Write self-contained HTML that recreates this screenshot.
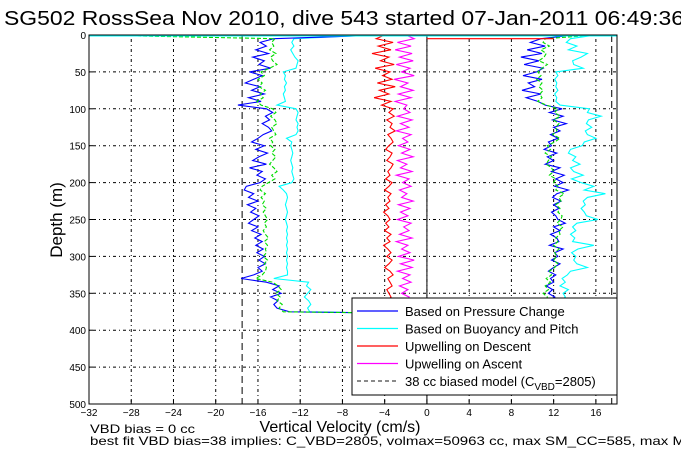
<!DOCTYPE html>
<html><head><meta charset="utf-8"><style>
body{margin:0;background:#fff;width:681px;height:454px;overflow:hidden}
svg{display:block;font-family:"Liberation Sans",sans-serif}
</style></head><body>
<svg id="c" width="681" height="454"></svg>
<script>
const xTicks=[-32,-28,-24,-20,-16,-12,-8,-4,0,4,8,12,16];
const yTicks=[0,50,100,150,200,250,300,350,400,450,500];
const dDepth=[0,5,10,15,20,25,30,35,40,45,50,55,60,65,70,75,80,85,90,95,100,105,110,115,120,125,130,135,140,145,150,155,160,165,170,175,180,185,190,195,200,205,210,215,220,225,230,235,240,245,250,255,260,265,270,275,280,285,290,295,300,305,310,315,320,325,330,335,340,345,350,355,360,365,370,375,377];
const descPressure=[-4,-14.5,-15.8,-15.2,-16.2,-15.0,-16.5,-15.4,-15.9,-14.8,-16.8,-15.6,-16.4,-17.2,-15.8,-16.6,-15.4,-16.9,-15.7,-17.9,-15.2,-14.6,-15.3,-14.9,-15.6,-15.0,-14.7,-15.5,-16.0,-16.6,-15.4,-16.2,-15.1,-15.9,-16.5,-15.2,-16.8,-15.6,-16.1,-15.3,-15.8,-17.1,-17.3,-16.4,-16.9,-16.0,-17.0,-16.2,-16.7,-15.9,-16.4,-16.9,-16.0,-16.6,-15.7,-16.3,-15.6,-16.2,-15.5,-16.1,-15.4,-15.9,-15.3,-16.0,-15.6,-16.4,-17.6,-15.2,-14.0,-14.6,-13.8,-14.8,-14.1,-14.5,-14.2,-13.0,-2];
const descBuoy=[-5,-12.6,-12.8,-12.6,-12.9,-12.7,-12.5,-12.2,-12.3,-12.4,-13.6,-13.4,-13.5,-13.3,-13.5,-13.4,-13.6,-13.5,-13.4,-14.2,-12.4,-12.2,-12.3,-12.4,-12.2,-12.3,-12.2,-12.4,-13.3,-12.8,-12.9,-12.8,-12.7,-12.8,-12.9,-12.8,-12.7,-12.8,-12.7,-12.6,-12.8,-14.0,-13.6,-13.3,-13.2,-13.3,-13.4,-13.3,-13.2,-13.3,-13.4,-13.3,-13.2,-13.3,-13.2,-13.3,-13.2,-13.3,-13.2,-13.3,-13.2,-13.3,-13.2,-13.3,-13.2,-13.2,-14.5,-11.2,-11.4,-11.0,-11.3,-11.6,-11.2,-11.0,-11.3,-11.1,-4];
const descModel=[-32,-14.4,-14.7,-14.5,-14.9,-14.3,-14.8,-14.6,-14.2,-14.9,-15.7,-15.4,-16.0,-15.6,-15.9,-15.3,-15.8,-15.5,-16.1,-15.7,-14.6,-14.3,-14.8,-14.4,-14.2,-14.7,-14.5,-14.3,-14.9,-14.6,-14.8,-14.4,-14.7,-14.3,-14.6,-14.9,-14.5,-14.2,-14.7,-14.4,-15.0,-15.6,-15.8,-15.3,-15.7,-15.4,-15.6,-15.2,-15.5,-15.3,-15.1,-15.4,-15.2,-15.5,-15.3,-15.0,-15.4,-15.1,-15.3,-15.2,-15.5,-15.1,-15.4,-15.2,-15.3,-15.6,-16.2,-14.6,-14.1,-13.8,-14.3,-13.9,-14.2,-13.7,-14.0,-13.6,-2];
const descUpwell=[-4,-4.8,-3.2,-4.6,-3.4,-5.2,-3.6,-4.4,-3.1,-4.9,-3.5,-4.2,-3.3,-4.7,-3.0,-4.5,-3.6,-5.0,-3.4,-4.3,-3.2,-3.6,-3.1,-3.8,-3.3,-3.5,-3.0,-3.7,-3.4,-3.2,-3.6,-3.9,-3.3,-3.5,-3.8,-3.2,-3.4,-3.7,-3.5,-3.9,-3.3,-3.6,-4.0,-3.4,-3.7,-3.5,-3.9,-3.6,-4.1,-3.7,-3.5,-3.9,-3.6,-4.0,-3.4,-3.8,-3.5,-4.1,-3.7,-3.4,-3.8,-3.3,-3.6,-4.0,-3.5,-3.2,-3.7,-3.5,-3.3,-3.8,-3.6,-3.4,-3.7,-3.5,-3.4,-3.6,-3.5];
const aDepth=[0,5,10,15,20,25,30,35,40,45,50,55,60,65,70,75,80,85,90,95,100,105,110,115,120,125,130,135,140,145,150,155,160,165,170,175,180,185,190,195,200,205,210,215,220,225,230,235,240,245,250,255,260,265,270,275,280,285,290,295,300,305,310,315,320,325,330,335,340,345,350,355,360];
const ascUpwell=[-2,-1.2,-2.8,-1.5,-3.0,-1.4,-2.6,-1.3,-2.9,-1.6,-2.4,-1.2,-3.1,-1.8,-2.5,-1.3,-2.7,-1.5,-3.0,-1.9,-2.2,-1.6,-2.8,-1.4,-2.5,-1.7,-2.9,-1.5,-2.3,-1.8,-2.7,-1.6,-2.4,-1.3,-2.8,-1.9,-2.5,-1.4,-2.9,-1.7,-2.3,-1.5,-2.6,-1.9,-2.4,-1.3,-2.7,-1.6,-2.5,-1.8,-2.8,-1.5,-2.2,-1.7,-2.6,-1.4,-2.9,-1.8,-2.4,-1.6,-2.7,-1.2,-2.5,-1.4,-2.8,-1.6,-2.3,-1.5,-2.6,-1.8,-2.4,-1.7,-2.2];
const ascPressure=[14,10.8,9.8,11.2,9.5,10.9,8.9,10.6,9.2,11.0,10.4,9.1,10.9,9.6,10.2,9.0,10.8,9.4,10.5,11.2,12.8,11.6,12.9,11.9,13.2,12.0,12.6,11.7,12.4,11.5,11.8,11.1,12.3,11.4,12.0,11.2,12.6,11.8,13.0,12.2,12.9,12.1,13.4,12.3,11.9,12.7,12.0,12.5,11.8,12.2,12.4,13.1,12.0,12.6,11.7,12.3,12.5,11.6,12.9,12.1,12.4,11.8,12.6,12.0,11.5,12.2,11.7,12.0,11.3,11.9,11.5,12.1,11.4];
const ascBuoy=[16,13.6,13.2,14.2,13.4,15.2,14.6,13.8,13.9,14.8,12.2,12.4,12.1,12.3,12.2,12.4,12.1,12.3,12.2,12.6,15.4,15.2,16.5,15.3,15.1,15.6,15.0,15.2,16.0,14.9,14.7,13.6,13.4,14.1,13.8,14.5,13.6,13.9,14.8,13.7,14.6,15.8,14.9,16.9,15.2,14.8,15.0,14.6,14.9,15.1,16.2,14.2,13.8,14.1,13.6,14.0,13.8,15.8,14.3,13.7,14.1,13.9,14.2,15.2,13.6,13.3,12.8,13.1,12.6,13.4,12.9,13.1,12.7];
const ascModel=[16,11.2,11.0,11.6,10.8,11.3,11.1,10.6,11.4,10.9,10.5,10.8,10.4,10.9,10.6,11.0,10.7,10.9,10.5,11.3,12.4,12.1,12.6,12.0,12.5,12.2,12.3,11.9,12.6,12.1,11.4,11.7,11.2,11.8,11.5,11.3,11.8,12.0,11.6,12.2,12.0,12.4,12.2,13.0,12.5,12.7,12.2,12.6,12.4,12.8,12.7,12.3,12.9,12.5,12.6,12.2,12.4,12.0,12.5,12.1,12.3,12.0,12.4,12.1,11.6,11.8,11.3,11.7,11.2,11.5,11.0,11.4,11.2];

const NS="http://www.w3.org/2000/svg";
const svg=document.getElementById('c');
const L=89,R=617,T=35,B=404,X0=-32,X1=18;
const sx=v=>L+(v-X0)/(X1-X0)*(R-L);
const sy=d=>T+d/500*(B-T);
function mk(tag,at,parent){const e=document.createElementNS(NS,tag);for(const k in at)e.setAttribute(k,at[k]);(parent||svg).appendChild(e);return e;}

const title=mk('text',{x:4,y:25,'font-size':20,textLength:680,lengthAdjust:'spacingAndGlyphs'});title.textContent='SG502 RossSea Nov 2010, dive 543 started 07-Jan-2011 06:49:36';



const grid=mk('g',{stroke:'#000','stroke-width':1,'stroke-dasharray':'1,3,3,3'});


xTicks.forEach(v=>{if(v>X0)mk('line',{x1:sx(v),x2:sx(v),y1:T,y2:B},grid);});
yTicks.forEach(v=>{if(v>0&&v<500)mk('line',{x1:L,x2:R,y1:sy(v),y2:sy(v)},grid);});

mk('line',{x1:sx(0),x2:sx(0),y1:T,y2:B,stroke:'#000'});
[-17.5,17.5].forEach(v=>{const l=mk('line',{x1:sx(v),x2:sx(v),y1:T,y2:B,stroke:'#000','stroke-dasharray':'7,4'});

});

function series(depths,vals,color,name,dash){
  const p=mk('polyline',{points:vals.map((v,i)=>sx(v).toFixed(1)+','+sy(depths[i]).toFixed(1)).join(' '),fill:'none',stroke:color,'stroke-width':1.1});
  if(dash)p.setAttribute('stroke-dasharray',dash);
  
  
}
series(dDepth,descUpwell,'#f00','upwelling-descent');
series(aDepth,ascUpwell,'#f0f','upwelling-ascent');
series(dDepth,descBuoy,'#0ff','buoyancy-descent');
series(aDepth,ascBuoy,'#0ff','buoyancy-ascent');
series(dDepth,descPressure,'#00f','pressure-descent');
series(aDepth,ascPressure,'#00f','pressure-ascent');
series(dDepth,descModel,'#0d0','model-descent','4,2');
series(aDepth,ascModel,'#0d0','model-ascent','4,2');
mk('line',{x1:L,x2:R,y1:sy(1),y2:sy(1),stroke:'#0ff','stroke-width':1.5});
mk('line',{x1:sx(0),x2:sx(12),y1:sy(5),y2:sy(5),stroke:'#f00','stroke-width':1.2});

mk('rect',{x:L,y:T,width:R-L,height:B-T,fill:'none',stroke:'#000'});
const xt=mk('g',{'font-size':10,'text-anchor':'middle'});


xTicks.forEach(v=>{mk('line',{x1:sx(v),x2:sx(v),y1:B,y2:B-4,stroke:'#000'},xt);const t=mk('text',{x:sx(v),y:B+12},xt);t.textContent=String(v).replace('-','\u2212');});
const yt=mk('g',{'font-size':10,'text-anchor':'end'});


yTicks.forEach(v=>{mk('line',{x1:L,x2:L+4,y1:sy(v),y2:sy(v),stroke:'#000'},yt);const t=mk('text',{x:L-3,y:sy(v)+4},yt);t.textContent=v;});

const xl=mk('text',{x:340,y:432,'font-size':16,'text-anchor':'middle'});xl.textContent='Vertical Velocity (cm/s)';


const yl=mk('text',{x:0,y:0,'font-size':17,'text-anchor':'middle',transform:'translate(62,220) rotate(-90)'});yl.textContent='Depth (m)';


const n1=mk('text',{x:90,y:433,'font-size':12,textLength:105,lengthAdjust:'spacingAndGlyphs'});n1.textContent='VBD bias = 0 cc';


const n2=mk('text',{x:90,y:445,'font-size':12,textLength:595,lengthAdjust:'spacingAndGlyphs'});n2.textContent='best fit VBD bias=38 implies: C_VBD=2805, volmax=50963 cc, max SM_CC=585, max M';



const lg=mk('g',{});


mk('rect',{x:352,y:298,width:265,height:97,fill:'#fff',stroke:'#000'},lg);
const ent=[['#00f','Based on Pressure Change'],['#0ff','Based on Buoyancy and Pitch'],['#f00','Upwelling on Descent'],['#f0f','Upwelling on Ascent'],['#0d0','']];
ent.forEach((e,i)=>{const y=311+i*17.5;
  const g=mk('g',{},lg);
  
  
  const ln=mk('line',{x1:357,x2:398,y1:y,y2:y,stroke:e[0],'stroke-width':1.2},g);
  if(i==4){ln.setAttribute('stroke-dasharray','4,3');ln.setAttribute('stroke','#444');}
  const t=mk('text',{x:405,y:y+5,'font-size':13},g);
  if(i<4)t.textContent=e[1];
  else t.innerHTML='38 cc biased model (C<tspan font-size="10" dy="4">VBD</tspan><tspan dy="-4">=2805)</tspan>';
});
</script>
</body></html>
